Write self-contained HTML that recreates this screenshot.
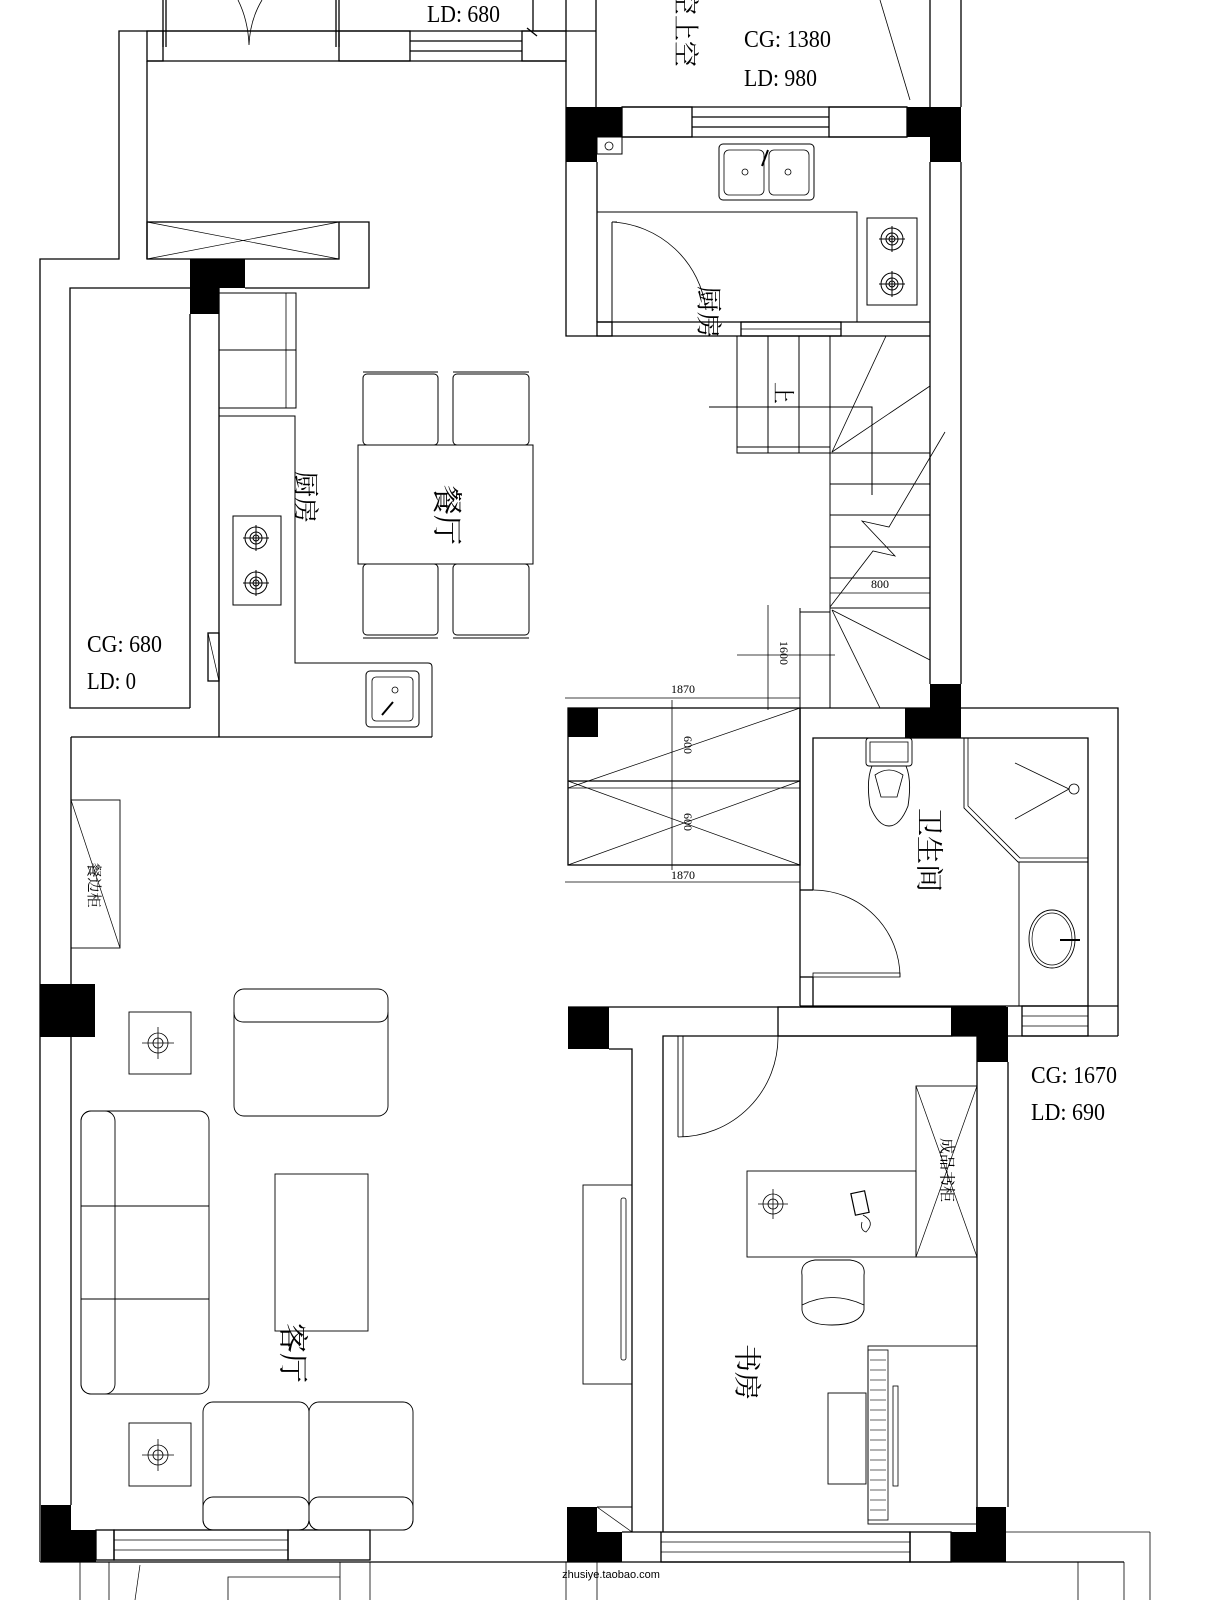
<!DOCTYPE html>
<html><head><meta charset="utf-8"><style>
html,body{margin:0;padding:0;background:#fff;}
svg{display:block;}
text{font-family:"Liberation Serif","Noto Serif CJK SC","Noto Sans CJK SC",serif;fill:#000;}
.c{font-family:"Noto Sans CJK SC","WenQuanYi Zen Hei",sans-serif;}
</style></head><body>
<svg width="1214" height="1600" viewBox="0 0 1214 1600" xmlns="http://www.w3.org/2000/svg">
<rect width="1214" height="1600" fill="#fff"/>
<g fill="none" stroke="#000" stroke-width="1.3">
<line x1="163" y1="0" x2="163" y2="47"/><line x1="166" y1="0" x2="166" y2="47"/>
<line x1="336" y1="0" x2="336" y2="47"/><line x1="339" y1="0" x2="339" y2="47"/>
<path d="M238 0 Q248 20 249 45 Q250 20 262 0" stroke-width="0.8"/>
<line x1="533" y1="0" x2="533" y2="31"/><line x1="566" y1="0" x2="566" y2="31"/>
<line x1="596" y1="0" x2="596" y2="107"/>
<line x1="930" y1="0" x2="930" y2="107"/><line x1="961" y1="0" x2="961" y2="107"/>
<line x1="880" y1="0" x2="910" y2="100" stroke-width="0.8"/>
<line x1="527" y1="28" x2="537" y2="36"/>
<path d="M596 31 H119 V259 H40 V1562"/>
<path d="M147 61 H566 V107"/>
<line x1="147" y1="61" x2="147" y2="259"/>
<rect x="147" y="31" width="16" height="30"/>
<rect x="339" y="31" width="71" height="30"/>
<rect x="522" y="31" width="44" height="30"/>
<line x1="410" y1="41" x2="522" y2="41"/><line x1="410" y1="51" x2="522" y2="51"/>
<line x1="163" y1="31" x2="339" y2="31"/>
<rect x="147" y="222" width="192" height="37"/>
<line x1="147" y1="222" x2="339" y2="259" stroke-width="0.7"/><line x1="147" y1="259" x2="339" y2="222" stroke-width="0.7"/>
<path d="M339 222 H369 V288 H245"/>
<path d="M190 288 H70 V708 H190"/>
<line x1="190" y1="314" x2="190" y2="708"/>
<line x1="219" y1="288" x2="219" y2="737"/>
<rect x="208" y="633" width="11" height="48"/>
<line x1="208" y1="633" x2="219" y2="681" stroke-width="0.7"/>
<rect x="219" y="293" width="77" height="115" stroke-width="1"/>
<line x1="219" y1="350" x2="296" y2="350" stroke-width="1"/>
<line x1="286" y1="293" x2="286" y2="408" stroke-width="0.8"/>
<path d="M219 416 H295 V663 H428 Q432 663 432 667 V737" stroke-width="1"/>
<line x1="71" y1="737" x2="432" y2="737"/>
<line x1="71" y1="737" x2="71" y2="1505"/>
<rect x="233" y="516" width="48" height="89" stroke-width="1"/>
<g stroke-width="1"><circle cx="256" cy="538" r="11"/><circle cx="256" cy="538" r="6"/><circle cx="256" cy="538" r="3"/><line x1="243" y1="538" x2="269" y2="538"/><line x1="256" y1="525" x2="256" y2="551"/>
<circle cx="256" cy="583" r="11"/><circle cx="256" cy="583" r="6"/><circle cx="256" cy="583" r="3"/><line x1="243" y1="583" x2="269" y2="583"/><line x1="256" y1="570" x2="256" y2="596"/></g>
<rect x="366" y="671" width="53" height="56" rx="4" stroke-width="1"/>
<rect x="372" y="677" width="41" height="44" rx="4" stroke-width="0.8"/>
<circle cx="395" cy="690" r="3" stroke-width="0.8"/>
<line x1="382" y1="715" x2="393" y2="702" stroke-width="2"/>
<rect x="358" y="445" width="175" height="119" stroke-width="1"/>
<g stroke-width="1">
<rect x="363" y="374" width="75" height="71" rx="4"/><line x1="363" y1="372" x2="438" y2="372"/>
<rect x="453" y="374" width="76" height="71" rx="4"/><line x1="453" y1="372" x2="529" y2="372"/>
<rect x="363" y="564" width="75" height="71" rx="4"/><line x1="363" y1="638" x2="438" y2="638"/>
<rect x="453" y="564" width="76" height="71" rx="4"/><line x1="453" y1="638" x2="529" y2="638"/>
</g>
<path d="M566 107 V336 H738"/>
<line x1="597" y1="162" x2="597" y2="322"/>
<path d="M622 107 H907 M622 137 H907"/>
<rect x="622" y="107" width="70" height="30"/><rect x="829" y="107" width="78" height="30"/>
<line x1="692" y1="117" x2="829" y2="117"/><line x1="692" y1="127" x2="829" y2="127"/>
<rect x="597" y="137" width="25" height="17" stroke-width="1"/><circle cx="609" cy="146" r="4" stroke-width="0.8"/>
<rect x="719" y="144" width="95" height="56" rx="4" stroke-width="1"/>
<rect x="724" y="150" width="40" height="45" rx="5" stroke-width="0.8"/><rect x="769" y="150" width="40" height="45" rx="5" stroke-width="0.8"/>
<circle cx="745" cy="172" r="3" stroke-width="0.8"/><circle cx="788" cy="172" r="3" stroke-width="0.8"/>
<line x1="762" y1="166" x2="768" y2="150" stroke-width="2"/>
<path d="M597 212 H857 V322" stroke-width="1"/>
<line x1="612" y1="222" x2="612" y2="322" stroke-width="1"/>
<line x1="612" y1="222" x2="617" y2="222" stroke-width="1"/>
<path d="M612 222 A100 100 0 0 1 706 310" stroke-width="0.8"/>
<rect x="867" y="218" width="50" height="87" stroke-width="1"/>
<g stroke-width="1"><circle cx="892" cy="239" r="11"/><circle cx="892" cy="239" r="6"/><circle cx="892" cy="239" r="3"/><line x1="879" y1="239" x2="905" y2="239"/><line x1="892" y1="226" x2="892" y2="252"/>
<circle cx="892" cy="284" r="11"/><circle cx="892" cy="284" r="6"/><circle cx="892" cy="284" r="3"/><line x1="879" y1="284" x2="905" y2="284"/><line x1="892" y1="271" x2="892" y2="297"/></g>
<line x1="597" y1="322" x2="930" y2="322"/>
<rect x="597" y="322" width="15" height="14"/>
<rect x="741" y="322" width="100" height="14"/><line x1="741" y1="329" x2="841" y2="329" stroke-width="0.8"/>
<line x1="738" y1="336" x2="930" y2="336"/>
<line x1="930" y1="162" x2="930" y2="684"/><line x1="961" y1="162" x2="961" y2="684"/>
<g stroke-width="1">
<path d="M737 336 V453 H830"/><line x1="737" y1="447" x2="830" y2="447"/>
<line x1="768" y1="336" x2="768" y2="453"/><line x1="799" y1="336" x2="799" y2="453"/>
<line x1="830" y1="336" x2="830" y2="708"/>
<line x1="830" y1="453" x2="930" y2="453"/><line x1="830" y1="484" x2="930" y2="484"/><line x1="830" y1="515" x2="930" y2="515"/><line x1="830" y1="547" x2="930" y2="547"/><line x1="830" y1="578" x2="930" y2="578"/><line x1="830" y1="608" x2="930" y2="608"/>
<line x1="800" y1="608" x2="800" y2="708"/><line x1="800" y1="612" x2="830" y2="612"/>
<path d="M709 407 H872 V495"/>
<line x1="832" y1="452" x2="886" y2="336" stroke-width="0.8"/><line x1="832" y1="452" x2="930" y2="386" stroke-width="0.8"/>
<path d="M945 432 L889 527 L862 521 L895 556 L873 551 L830 607" stroke-width="0.8"/>
<line x1="832" y1="610" x2="930" y2="660" stroke-width="0.8"/><line x1="832" y1="610" x2="880" y2="708" stroke-width="0.8"/>
<line x1="830" y1="593" x2="930" y2="593" stroke-width="0.8"/>
<line x1="768" y1="605" x2="768" y2="710" stroke-width="0.8"/><line x1="737" y1="655" x2="835" y2="655" stroke-width="0.8"/>
<line x1="565" y1="698" x2="800" y2="698" stroke-width="0.8"/>
<line x1="565" y1="882" x2="800" y2="882" stroke-width="0.8"/>
</g>
<rect x="568" y="708" width="232" height="157"/>
<line x1="568" y1="781" x2="800" y2="781"/><line x1="568" y1="788" x2="800" y2="788" stroke-width="0.8"/>
<line x1="568" y1="865" x2="800" y2="781" stroke-width="0.7"/><line x1="568" y1="781" x2="800" y2="865" stroke-width="0.7"/>
<line x1="568" y1="788" x2="800" y2="708" stroke-width="0.7"/>
<line x1="672" y1="700" x2="672" y2="870" stroke-width="0.8"/>
<path d="M800 708 H1118 V1036"/>
<path d="M813 890 V738 H1088 V1006"/>
<line x1="800" y1="708" x2="800" y2="1006"/>
<line x1="800" y1="890" x2="813" y2="890"/>
<line x1="813" y1="977" x2="813" y2="1006"/><line x1="800" y1="977" x2="813" y2="977"/>
<path d="M813 890 A87 87 0 0 1 900 977" stroke-width="0.8"/>
<rect x="813" y="973" width="87" height="4" stroke-width="0.8"/>
<rect x="866" y="738" width="46" height="28" rx="3" stroke-width="0.9"/>
<rect x="870" y="742" width="38" height="20" stroke-width="0.8"/>
<path d="M872 766 Q866 780 870 806 Q878 826 889 826 Q900 826 908 806 Q912 780 906 766" stroke-width="0.9"/>
<path d="M875 775 Q889 765 903 775 L897 797 H881 Z" stroke-width="0.8"/>
<path d="M964 738 V808 L1018 862 H1088" stroke-width="0.9"/>
<path d="M968 738 V806 L1020 858 H1088" stroke-width="0.8"/>
<line x1="1015" y1="763" x2="1069" y2="789" stroke-width="0.8"/><line x1="1015" y1="819" x2="1069" y2="789" stroke-width="0.8"/>
<circle cx="1074" cy="789" r="5" stroke-width="0.8"/>
<line x1="1019" y1="862" x2="1019" y2="1006" stroke-width="0.9"/>
<ellipse cx="1052" cy="939" rx="23" ry="29" stroke-width="0.9"/><ellipse cx="1052" cy="939" rx="20" ry="26" stroke-width="0.7"/>
<line x1="1060" y1="940" x2="1080" y2="940" stroke-width="2"/>
<line x1="800" y1="1006" x2="1118" y2="1006"/>
<rect x="1022" y="1006" width="66" height="30"/><line x1="1022" y1="1016" x2="1088" y2="1016" stroke-width="0.8"/><line x1="1022" y1="1026" x2="1088" y2="1026" stroke-width="0.8"/>
<line x1="1006" y1="1036" x2="1118" y2="1036"/>
<line x1="568" y1="1007" x2="952" y2="1007"/>
<rect x="778" y="1007" width="174" height="29"/>
<path d="M609 1049 H632 V1532"/>
<path d="M663 1532 V1036 H977 V1507"/>
<line x1="1008" y1="1062" x2="1008" y2="1507"/>
<line x1="678" y1="1036" x2="678" y2="1137" stroke-width="0.9"/><line x1="683" y1="1036" x2="683" y2="1137" stroke-width="0.9"/>
<path d="M678 1137 A100 100 0 0 0 778 1036" stroke-width="0.8"/>
<rect x="916" y="1086" width="61" height="171" stroke-width="0.9"/>
<line x1="916" y1="1086" x2="977" y2="1257" stroke-width="0.7"/><line x1="977" y1="1086" x2="916" y2="1257" stroke-width="0.7"/>
<rect x="747" y="1171" width="169" height="86" stroke-width="0.9"/>
<circle cx="773" cy="1204" r="10" stroke-width="0.8"/><circle cx="773" cy="1204" r="5" stroke-width="0.8"/><line x1="758" y1="1204" x2="788" y2="1204" stroke-width="0.8"/><line x1="773" y1="1189" x2="773" y2="1219" stroke-width="0.8"/>
<rect x="853" y="1192" width="14" height="22" stroke-width="1.2" transform="rotate(-12 860 1203)"/>
<path d="M863 1215 Q876 1222 866 1232 Q860 1230 862 1222" stroke-width="0.8"/>
<path d="M802 1275 Q800 1262 815 1260 H850 Q866 1262 864 1275 V1310 Q860 1325 832 1325 Q804 1325 802 1310 Z" stroke-width="0.9"/>
<path d="M802 1305 Q832 1290 864 1305" stroke-width="0.8"/>
<rect x="868" y="1346" width="109" height="178" stroke-width="0.9"/>
<rect x="868" y="1350" width="20" height="170" stroke-width="0.8"/>
<g stroke-width="0.6">
<line x1="870" y1="1360" x2="886" y2="1360"/><line x1="870" y1="1370" x2="886" y2="1370"/><line x1="870" y1="1380" x2="886" y2="1380"/><line x1="870" y1="1390" x2="886" y2="1390"/><line x1="870" y1="1400" x2="886" y2="1400"/><line x1="870" y1="1410" x2="886" y2="1410"/><line x1="870" y1="1420" x2="886" y2="1420"/><line x1="870" y1="1430" x2="886" y2="1430"/><line x1="870" y1="1440" x2="886" y2="1440"/><line x1="870" y1="1450" x2="886" y2="1450"/><line x1="870" y1="1460" x2="886" y2="1460"/><line x1="870" y1="1470" x2="886" y2="1470"/><line x1="870" y1="1480" x2="886" y2="1480"/><line x1="870" y1="1490" x2="886" y2="1490"/><line x1="870" y1="1500" x2="886" y2="1500"/><line x1="870" y1="1510" x2="886" y2="1510"/></g>
<rect x="893" y="1386" width="5" height="100" stroke-width="0.8"/>
<rect x="828" y="1393" width="38" height="91" stroke-width="0.9"/>
<rect x="583" y="1185" width="49" height="199" stroke-width="0.9"/>
<rect x="621" y="1198" width="5" height="162" rx="2" stroke-width="0.8"/>
<line x1="597" y1="1507" x2="632" y2="1507" stroke-width="0.9"/><line x1="597" y1="1507" x2="632" y2="1532" stroke-width="0.7"/>
<line x1="622" y1="1532" x2="661" y2="1532"/>
<rect x="661" y="1532" width="249" height="30"/>
<line x1="661" y1="1542" x2="910" y2="1542" stroke-width="0.8"/><line x1="661" y1="1552" x2="910" y2="1552" stroke-width="0.8"/>
<rect x="910" y="1532" width="41" height="30"/>
<line x1="40" y1="1562" x2="1124" y2="1562"/>
<line x1="1006" y1="1532" x2="1150" y2="1532" stroke-width="0.8"/>
<line x1="1124" y1="1562" x2="1124" y2="1600" stroke-width="0.8"/><line x1="1150" y1="1532" x2="1150" y2="1600" stroke-width="0.8"/>
<line x1="1078" y1="1562" x2="1078" y2="1600" stroke-width="0.8"/>
<line x1="566" y1="1562" x2="566" y2="1600" stroke-width="0.8"/><line x1="597" y1="1562" x2="597" y2="1600" stroke-width="0.8"/>
<rect x="71" y="800" width="49" height="148" stroke-width="0.9"/>
<line x1="71" y1="800" x2="120" y2="948" stroke-width="0.7"/>
<rect x="129" y="1012" width="62" height="62" stroke-width="0.9"/>
<circle cx="158" cy="1043" r="10" stroke-width="0.8"/><circle cx="158" cy="1043" r="5" stroke-width="0.8"/><line x1="142" y1="1043" x2="174" y2="1043" stroke-width="0.8"/><line x1="158" y1="1027" x2="158" y2="1059" stroke-width="0.8"/>
<rect x="129" y="1423" width="62" height="63" stroke-width="0.9"/>
<circle cx="158" cy="1455" r="10" stroke-width="0.8"/><circle cx="158" cy="1455" r="5" stroke-width="0.8"/><line x1="142" y1="1455" x2="174" y2="1455" stroke-width="0.8"/><line x1="158" y1="1439" x2="158" y2="1471" stroke-width="0.8"/>
<rect x="234" y="989" width="154" height="127" rx="10" stroke-width="0.9"/>
<path d="M234 1012 Q234 1022 244 1022 H378 Q388 1022 388 1012" stroke-width="0.9"/>
<rect x="81" y="1111" width="128" height="283" rx="10" stroke-width="0.9"/>
<rect x="81" y="1111" width="34" height="283" rx="10" stroke-width="0.9"/>
<line x1="81" y1="1206" x2="209" y2="1206" stroke-width="0.9"/><line x1="81" y1="1299" x2="209" y2="1299" stroke-width="0.9"/>
<rect x="275" y="1174" width="93" height="157" stroke-width="0.9"/>
<rect x="203" y="1402" width="106" height="128" rx="10" stroke-width="0.9"/>
<rect x="309" y="1402" width="104" height="128" rx="10" stroke-width="0.9"/>
<rect x="203" y="1497" width="106" height="33" rx="10" stroke-width="0.9"/>
<rect x="309" y="1497" width="104" height="33" rx="10" stroke-width="0.9"/>
<rect x="96" y="1530" width="18" height="30"/>
<rect x="114" y="1530" width="174" height="30"/>
<line x1="114" y1="1540" x2="288" y2="1540" stroke-width="0.8"/><line x1="114" y1="1550" x2="288" y2="1550" stroke-width="0.8"/>
<rect x="288" y="1530" width="82" height="30"/>
<line x1="80" y1="1562" x2="80" y2="1600" stroke-width="0.8"/><line x1="109" y1="1562" x2="109" y2="1600" stroke-width="0.8"/>
<line x1="340" y1="1562" x2="340" y2="1600" stroke-width="0.8"/><line x1="370" y1="1562" x2="370" y2="1600" stroke-width="0.8"/>
<path d="M228 1600 V1577 H340" stroke-width="0.8"/>
<line x1="140" y1="1565" x2="135" y2="1600" stroke-width="0.7"/>
</g>
<g fill="#000">
<rect x="566" y="107" width="56" height="30"/><rect x="566" y="137" width="31" height="25"/>
<rect x="907" y="107" width="54" height="30"/><rect x="930" y="137" width="31" height="25"/>
<rect x="190" y="259" width="55" height="29"/><rect x="190" y="288" width="29" height="26"/>
<rect x="930" y="684" width="31" height="24"/><rect x="905" y="708" width="56" height="30"/>
<rect x="568" y="708" width="30" height="29"/>
<rect x="951" y="1006" width="55" height="30"/>
<rect x="568" y="1007" width="41" height="42"/>
<rect x="952" y="1007" width="56" height="29"/><rect x="977" y="1036" width="31" height="26"/>
<rect x="40" y="984" width="55" height="53"/>
<rect x="41" y="1505" width="30" height="25"/><rect x="41" y="1530" width="55" height="32"/>
<rect x="567" y="1507" width="30" height="25"/><rect x="567" y="1532" width="55" height="30"/>
<rect x="976" y="1507" width="30" height="25"/><rect x="951" y="1532" width="55" height="30"/>
</g>
<text x="427" y="22" font-size="24" textLength="73" lengthAdjust="spacingAndGlyphs">LD: 680</text>
<text x="744" y="47" font-size="24" textLength="87" lengthAdjust="spacingAndGlyphs">CG: 1380</text>
<text x="744" y="86" font-size="24" textLength="73" lengthAdjust="spacingAndGlyphs">LD: 980</text>
<text x="87" y="652" font-size="24" textLength="75" lengthAdjust="spacingAndGlyphs">CG: 680</text>
<text x="87" y="689" font-size="24" textLength="49" lengthAdjust="spacingAndGlyphs">LD: 0</text>
<text x="1031" y="1083" font-size="24" textLength="86" lengthAdjust="spacingAndGlyphs">CG: 1670</text>
<text x="1031" y="1120" font-size="24" textLength="74" lengthAdjust="spacingAndGlyphs">LD: 690</text>
<text x="683" y="693" font-size="12" text-anchor="middle">1870</text>
<text x="683" y="879" font-size="12" text-anchor="middle">1870</text>
<text x="880" y="588" font-size="12" text-anchor="middle">800</text>
<text x="684" y="745" font-size="12" text-anchor="middle" transform="rotate(90 684 745)">600</text>
<text x="684" y="822" font-size="12" text-anchor="middle" transform="rotate(90 684 822)">600</text>
<text x="780" y="653" font-size="12" text-anchor="middle" transform="rotate(90 780 653)">1600</text>
<g class="c">
<text x="446" y="515" font-size="30" text-anchor="middle" dominant-baseline="central" transform="rotate(90 446 515)">餐厅</text>
<text x="305" y="497" font-size="26" text-anchor="middle" dominant-baseline="central" transform="rotate(90 305 497)">厨房</text>
<text x="708" y="312" font-size="26" text-anchor="middle" dominant-baseline="central" transform="rotate(90 708 312)">厨房</text>
<text x="928" y="850" font-size="28" text-anchor="middle" dominant-baseline="central" transform="rotate(90 928 850)">卫生间</text>
<text x="292" y="1353" font-size="30" text-anchor="middle" dominant-baseline="central" transform="rotate(90 292 1353)">客厅</text>
<text x="746" y="1372" font-size="28" text-anchor="middle" dominant-baseline="central" transform="rotate(90 746 1372)">书房</text>
<text x="93" y="885" font-size="15" text-anchor="middle" dominant-baseline="central" transform="rotate(90 93 885)">餐边柜</text>
<text x="946" y="1170" font-size="16" text-anchor="middle" dominant-baseline="central" transform="rotate(90 946 1170)">成品书柜</text>
<text x="783" y="393" font-size="22" text-anchor="middle" dominant-baseline="central" transform="rotate(90 783 393)">上</text>
<text x="685" y="28" font-size="26" text-anchor="middle" dominant-baseline="central" transform="rotate(90 685 28)">空上空</text>
</g>
<text x="611" y="1578" font-size="11" text-anchor="middle" style="font-family:'Liberation Sans',sans-serif">zhusiye.taobao.com</text>
</svg>
</body></html>
